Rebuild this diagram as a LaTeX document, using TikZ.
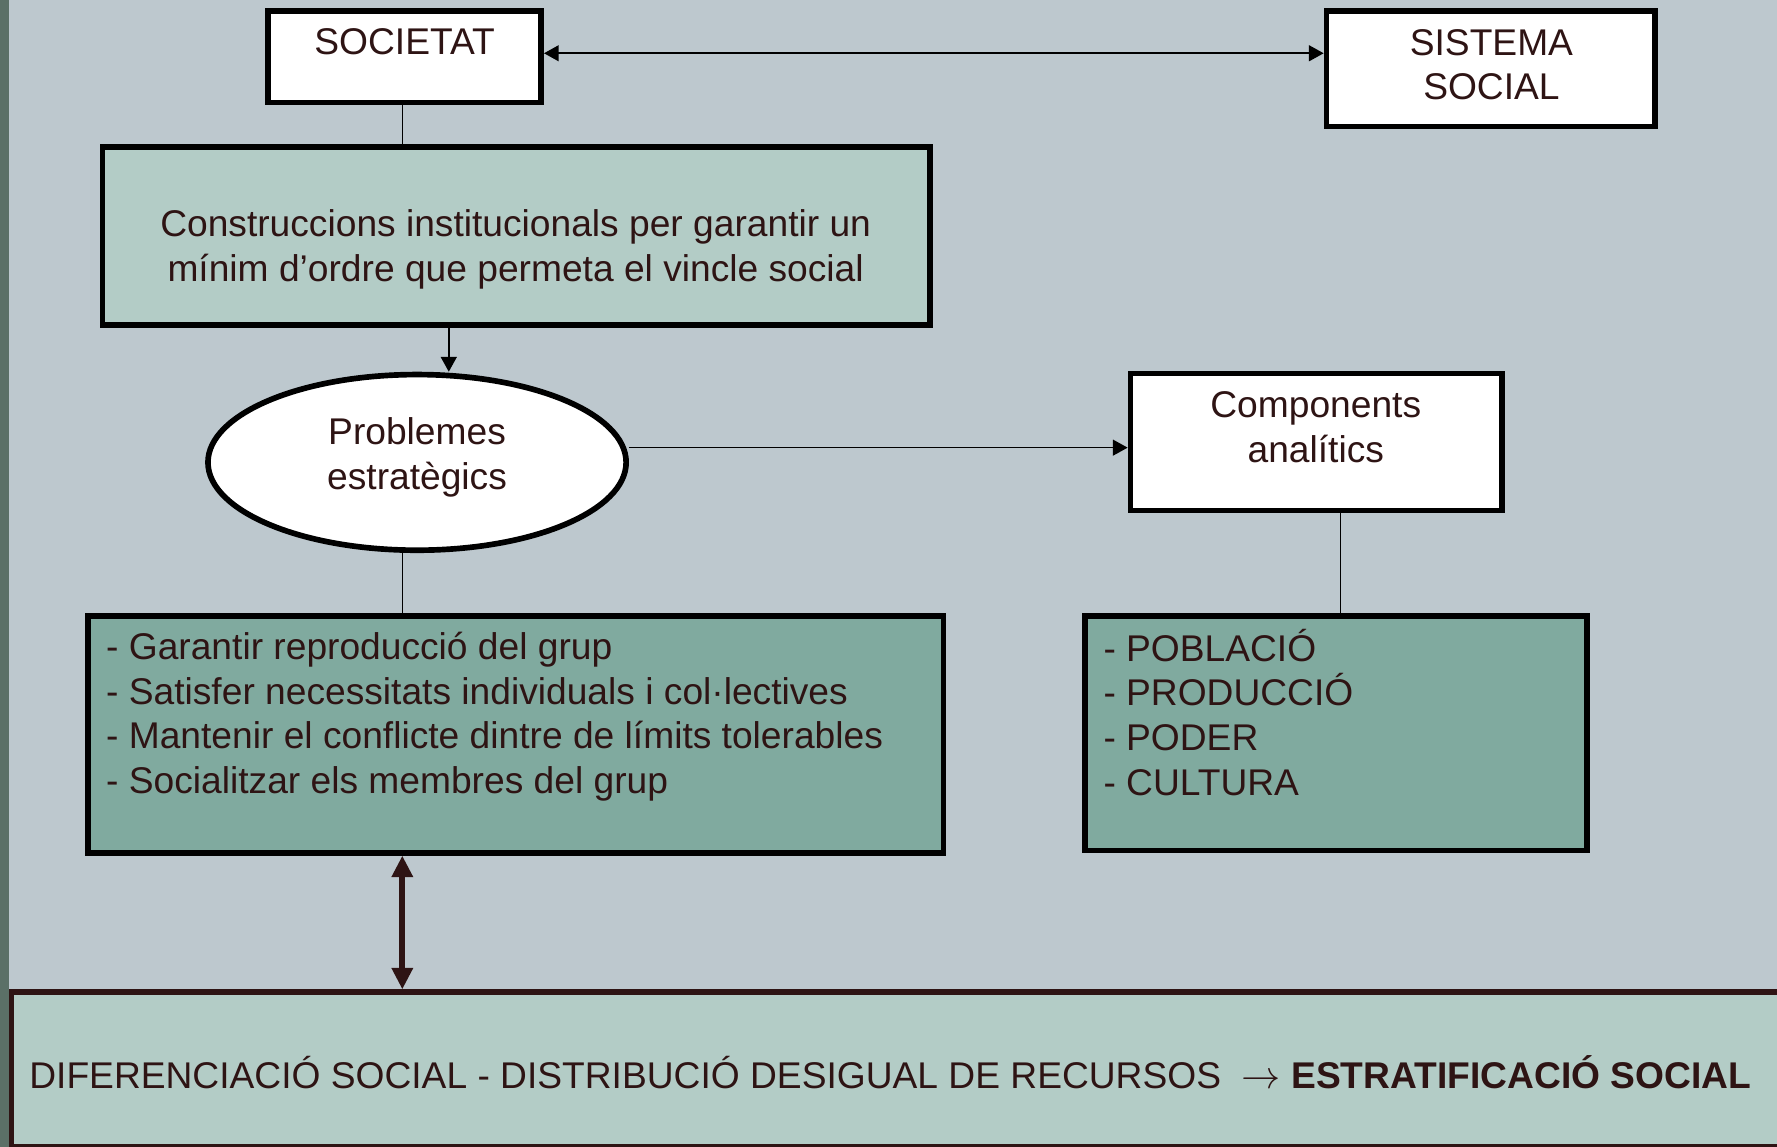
\documentclass[tikz,border=0pt]{standalone}
\usepackage{fontspec}
\setmainfont{Liberation Sans}
\usetikzlibrary{arrows.meta,shapes.geometric}
\definecolor{Fons}{HTML}{BDC8CE}
\definecolor{Franja}{HTML}{5B7067}
\definecolor{VerdClar}{HTML}{B3CCC6}
\definecolor{VerdFosc}{HTML}{80AA9F}
\definecolor{Marro}{HTML}{2E1414}

\begin{document}
\begin{tikzpicture}[x=0.5pt, y=-0.5pt, line width=0.7pt,
      >={Triangle[length=6.5pt,width=7pt]},
      every node/.append style={inner sep=0pt},
      box/.style={draw=black, line width=2.5pt, rectangle},
      txt/.style={text=Marro, font=\fontsize{16.4}{19.7}\selectfont, align=center}]
	  \tikzstyle{gran} = [line width=2.5pt, color=Marro, {Triangle[length=9.5pt,width=9pt]}-{Triangle[length=9.5pt,width=9pt]}]
	  \clip (0,0) rectangle (1568,1012);
	  \fill[Fons] (0,0) rectangle (1568,1012);
	  % caixes
	  \node (societat) [box, fill=white, minimum width=120.5pt, minimum height=40.5pt] at (357,50) {};
	  \node (sistema) [box, fill=white, minimum width=145pt, minimum height=51pt] at (1315.5,60.5) {};
	  \node (construccions) [box, fill=VerdClar, minimum width=365pt, minimum height=78.5pt] at (455.5,208) {};
	  \node (problemes) [ellipse, draw=black, line width=2.5pt, fill=white, minimum width=184.5pt, minimum height=77.5pt] at (368,408) {};
	  \node (components) [box, fill=white, minimum width=164pt, minimum height=60.5pt] at (1161.5,390) {};
	  \node (garantir) [box, fill=VerdFosc, minimum width=377.5pt, minimum height=104.5pt] at (455,648) {};
	  \node (poblacio) [box, fill=VerdFosc, minimum width=221.5pt, minimum height=103.5pt] at (1179,647) {};
	  \node (diferenciacio) [box, draw=Marro, fill=VerdClar, minimum width=794.75pt, minimum height=68pt] at (805,943.5) {};
	  \fill[Franja] (0,0) rectangle (8,1012);
	  % textos
	  \node (societat-t) [txt] at (357,37) {SOCIETAT};
	  \node (sistema-t) [txt] at (1316,57) {SISTEMA\\SOCIAL};
	  \node (construccions-t) [txt] at (455,220) {Construccions institucionals per garantir un\\m\'inim d’ordre que permeta el vincle social};
	  \node (problemes-t) [txt] at (368,403.5) {Problemes\\estratègics};
	  \node (components-t) [txt] at (1161,377) {Components\\analítics};
	  \node (garantir-t) [txt, align=left, anchor=west] at (93,632.5) {- Garantir reproducció del grup\\- Satisfer necessitats individuals i col·lectives\\- Mantenir el conflicte dintre de límits tolerables\\- Socialitzar els membres del grup};
	  \node (poblacio-t) [txt, align=left, anchor=west] at (973,628.5) {- POBLACIÓ\\- PRODUCCIÓ\\- PODER\\- CULTURA};
	  \node (diferenciacio-t) [txt] at (785.5,946) {DIFERENCIACIÓ SOCIAL - DISTRIBUCIÓ DESIGUAL DE RECURSOS~ $\rightarrow$ \textbf{ESTRATIFICACIÓ SOCIAL}};
	  % connexions
	  \draw[<->] ([yshift=1.5pt]societat.east) -- ([yshift=1.5pt]societat.east -| sistema.west);
	  \draw ([xshift=-1pt]societat.south) -- ([xshift=-1pt]societat.south |- construccions.north);
	  \draw[->] ([xshift=14pt]problemes.north |- construccions.south) -- ([xshift=14pt]problemes.north);
	  \draw[->] ([yshift=6.5pt]problemes.east) -- ([yshift=6.5pt]problemes.east -| components.west);
	  \draw ([xshift=-6.5pt]problemes.south) -- ([xshift=-6.5pt]problemes.south |- garantir.north);
	  \draw ([xshift=10.75pt]components.south) -- ([xshift=10.75pt]components.south |- poblacio.north);
	  \draw[gran] ([xshift=-50pt]garantir.south) -- ([xshift=-50pt]garantir.south |- diferenciacio.north);
	\end{tikzpicture}
\end{document}
